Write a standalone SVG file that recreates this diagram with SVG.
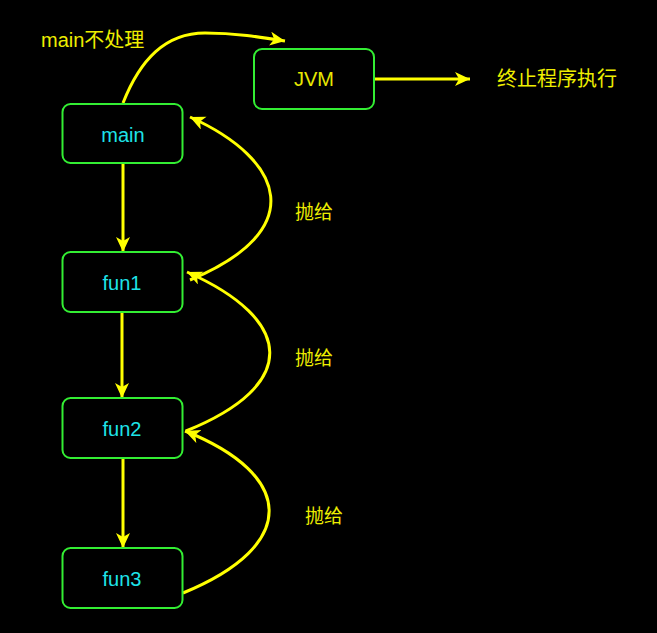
<svg xmlns="http://www.w3.org/2000/svg" width="657" height="633" viewBox="0 0 657 633">
<defs>
<marker id="arr" markerUnits="userSpaceOnUse" markerWidth="17" markerHeight="15" refX="15" refY="7" orient="auto">
<path d="M0,0 L15,7 L0,14 L4,7 Z" fill="#FFFF00"/>
</marker>
<style>
.box{fill:#000;stroke:#33EE33;stroke-width:2}
.nl{font-family:"Liberation Sans","Noto Sans CJK SC",sans-serif;font-size:20px;fill:#1EE3E8;text-anchor:middle}
.lbl{font-family:"Liberation Sans","Noto Sans CJK SC",sans-serif;font-size:19px;fill:#EEEE00}
.c{fill:none;stroke:#FFFF00;stroke-width:3;marker-end:url(#arr)}
</style>
</defs>
<rect width="657" height="633" fill="#000"/>
<g id="connectors">
<path class="c" d="M123,103 C140,60 165,33 205,33 C235,33 260,37 285,41"/>
<path class="c" d="M374,79 L470,79"/>
<path class="c" d="M123,164 L123,252"/>
<path class="c" d="M122,313 L122,398"/>
<path class="c" d="M123,459 L123,548"/>
<path class="c" d="M190,280 C310,230 285,160 190,117"/>
<path class="c" d="M186,431 C300,385 295,320 187,272"/>
<path class="c" d="M183,593 C300,545 295,475 185,431"/>
</g>
<g id="main"><rect class="box" x="62.5" y="104" width="120" height="59" rx="8"/><text class="nl" x="123" y="142">main</text></g>
<g id="jvm"><rect class="box" x="254" y="49" width="120" height="60" rx="8"/><text class="nl" x="314" y="86" style="fill:#E8E800">JVM</text></g>
<g id="fun1"><rect class="box" x="62.5" y="252" width="120" height="60" rx="8"/><text class="nl" x="122" y="290">fun1</text></g>
<g id="fun2"><rect class="box" x="62.5" y="398" width="120" height="60" rx="8"/><text class="nl" x="122" y="436">fun2</text></g>
<g id="fun3"><rect class="box" x="62.5" y="548" width="120" height="60" rx="8"/><text class="nl" x="122" y="586">fun3</text></g>
<g id="labels">
<text class="lbl" x="41" y="47" style="font-size:20px">main不处理</text>
<text class="lbl" x="497" y="86" style="font-size:20px">终止程序执行</text>
<text class="lbl" x="295" y="219">抛给</text>
<text class="lbl" x="295" y="365">抛给</text>
<text class="lbl" x="305" y="523">抛给</text>
</g>
</svg>
